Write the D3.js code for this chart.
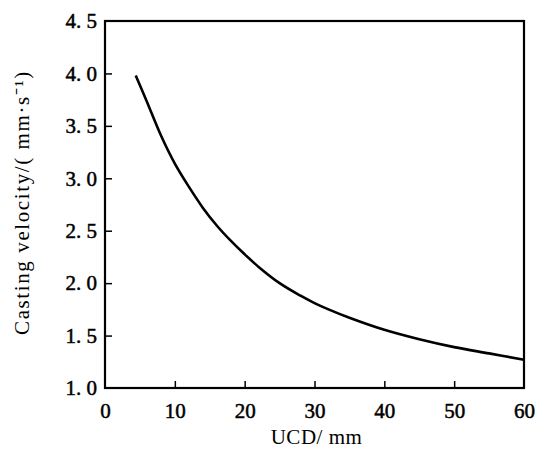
<!DOCTYPE html>
<html>
<head>
<meta charset="utf-8">
<script src="https://cdn.jsdelivr.net/npm/d3@7"></script>
<style>
  body { margin: 0; background: #fff; }
  text { font-family: "Liberation Serif", "Times New Roman", serif; fill: #000; }
</style>
</head>
<body>
<div id="chart"></div>
<script>
// UCD (mm) vs casting velocity (mm/s)
const ucd = [4.4, 6, 8, 10, 12, 14, 16, 18, 20, 22, 25, 28, 30, 32, 35, 40, 45, 50, 55, 60];
const velocity = [3.98, 3.73, 3.41, 3.14, 2.92, 2.72, 2.55, 2.405, 2.275, 2.155, 2.00, 1.88, 1.81, 1.75, 1.67, 1.555, 1.465, 1.39, 1.33, 1.27];
const xTicks = [0, 10, 20, 30, 40, 50, 60];
const yTicks = [1.0, 1.5, 2.0, 2.5, 3.0, 3.5, 4.0, 4.5];

const width = 542, height = 454;
const plotLeft = 105, plotRight = 524, plotTop = 21, plotBottom = 388;

const svg = d3.select("#chart").append("svg")
    .attr("width", width)
    .attr("height", height);

const x = d3.scaleLinear().domain([0, 60]).range([plotLeft, plotRight]);
const y = d3.scaleLinear().domain([1, 4.5]).range([plotBottom, plotTop]);

// frame
svg.append("rect")
    .attr("x", plotLeft).attr("y", plotTop)
    .attr("width", plotRight - plotLeft).attr("height", plotBottom - plotTop)
    .attr("fill", "none").attr("stroke", "#000").attr("stroke-width", 2.2);

// axes with inward ticks
const xAxis = svg.append("g")
    .attr("transform", `translate(0,${plotBottom})`)
    .call(d3.axisBottom(x).tickValues(xTicks).tickSizeInner(-7).tickSizeOuter(0).tickPadding(15));
const yAxis = svg.append("g")
    .attr("transform", `translate(${plotLeft},0)`)
    .call(d3.axisLeft(y).tickValues(yTicks).tickSizeInner(-7).tickSizeOuter(0).tickPadding(8)
        .tickFormat(d => d3.format(".1f")(d).replace(".", ". ")));

[xAxis, yAxis].forEach(g => {
    g.select(".domain").remove();
    g.selectAll(".tick line").attr("stroke", "#000").attr("stroke-width", 1.5);
    g.selectAll(".tick text")
        .style("font-family", '"Liberation Serif", serif')
        .style("font-size", "21px")
        .attr("fill", "#000")
        .attr("stroke", "#000")
        .attr("stroke-width", 0.5);
});
// end ticks sit on the frame
yAxis.selectAll(".tick").filter(d => d === 1.0 || d === 4.5).select("line").remove();
xAxis.selectAll(".tick").filter(d => d === 0 || d === 60).select("line").remove();

// curve
const line = d3.line()
    .x((d, i) => x(ucd[i]))
    .y(d => y(d))
    .curve(d3.curveCatmullRom.alpha(0.5));

svg.append("path")
    .datum(velocity)
    .attr("d", line)
    .attr("fill", "none")
    .attr("stroke", "#000")
    .attr("stroke-width", 2.6);

// axis titles
svg.append("text")
    .attr("x", (plotLeft + plotRight) / 2 + 2)
    .attr("y", 444)
    .attr("text-anchor", "middle")
    .style("font-size", "21px")
    .style("letter-spacing", "0.5px")
    .text("UCD/ mm");

svg.append("text")
    .attr("transform", `translate(29,${(plotTop + plotBottom) / 2 - 2}) rotate(-90)`)
    .attr("text-anchor", "middle")
    .style("font-size", "21px")
    .style("letter-spacing", "1.6px")
    .text("Casting velocity/( mm\u00B7s\u207B\u00B9)");
</script>
</body>
</html>
